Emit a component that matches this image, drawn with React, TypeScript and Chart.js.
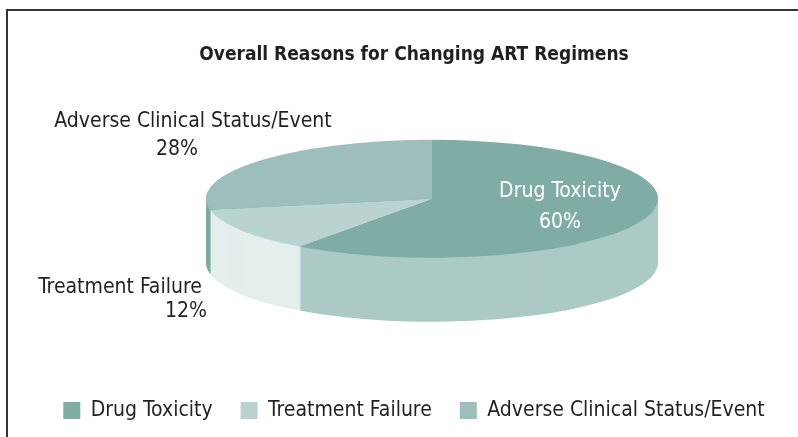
import React, { useEffect, useRef } from "react";
import { Chart, registerables } from "chart.js";

Chart.register(...registerables);

// ---- data ----
const categories = ["Drug Toxicity", "Treatment Failure", "Adverse Clinical Status/Event"];
const percentages = [60, 12, 28];
const titleText = "Overall Reasons for Changing ART Regimens";

// ---- styles ----
const topColors = ["#7fada6", "#b9d4d0", "#9dbfbb"];
const sideColors = ["#accac5", "#e4eeec", "#80aaa4"];
const labelColors = ["#ffffff", "#231f20", "#231f20"];
const TEXT = "#231f20";
const FONT = "'DejaVu Sans', sans-serif";

// pie geometry (styling of the 3D projection)
const PIE = { offsetX: 18, rx: 226, ry: 59, depth: 64 };
// label line anchors relative to the pie centre: [dx, dy] per line
const LABEL_POS = [
  [[128, -7], [128, 24]],
  [[-312, 89], [-246, 113]],
  [[-239, -77], [-255, -49]],
];

function pieCenter(chart: any) {
  const ca = chart.chartArea;
  return { cx: (ca.left + ca.right) / 2 + PIE.offsetX, cy: ca.top + PIE.ry };
}

function drawArcLayer(ctx: CanvasRenderingContext2D, arc: any, cx: number, cy: number, color: string) {
  const proxy = Object.create(arc);
  proxy.options = { ...arc.options, backgroundColor: color, borderWidth: 0 };
  ctx.save();
  ctx.translate(cx, cy);
  ctx.scale(PIE.rx / arc.outerRadius, PIE.ry / arc.outerRadius);
  ctx.translate(-arc.x, -arc.y);
  proxy.draw(ctx);
  ctx.restore();
}

const pie3d = {
  id: "pie3d",
  beforeDatasetsDraw(chart: any) {
    const ctx = chart.ctx;
    const meta = chart.getDatasetMeta(0);
    const { cx, cy } = pieCenter(chart);
    for (let d = PIE.depth; d >= 1; d--) {
      meta.data.forEach((arc: any, i: number) => drawArcLayer(ctx, arc, cx, cy + d, sideColors[i]));
    }
    meta.data.forEach((arc: any, i: number) => drawArcLayer(ctx, arc, cx, cy, topColors[i]));
    return false;
  },
  afterDraw(chart: any) {
    const ctx = chart.ctx;
    const { cx, cy } = pieCenter(chart);
    ctx.save();
    ctx.font = `condensed 21px ${FONT}`;
    ctx.textBaseline = "middle";
    ctx.textAlign = "center";
    categories.forEach((name, i) => {
      const lines = [name, `${percentages[i]}%`];
      ctx.fillStyle = labelColors[i];
      lines.forEach((t, j) => {
        ctx.fillText(t, cx + LABEL_POS[i][j][0], cy + LABEL_POS[i][j][1]);
      });
    });
    ctx.restore();
  },
};

export default function App() {
  const ref = useRef<HTMLCanvasElement>(null);
  useEffect(() => {
    if (!ref.current) return;
    const chart = new Chart(ref.current, {
      type: "pie",
      data: {
        labels: categories,
        datasets: [
          {
            data: percentages,
            backgroundColor: topColors,
            borderWidth: 0,
          },
        ],
      },
      options: {
        animation: false,
        responsive: false,
        events: [],
        layout: { padding: { left: 30, right: 0, top: 0, bottom: 6 } },
        plugins: {
          title: {
            display: true,
            text: titleText,
            color: TEXT,
            font: { family: FONT, size: 19, weight: "bold condensed" as any },
            padding: { top: 44, bottom: 73 },
          },
          legend: {
            position: "bottom",
            labels: {
              color: TEXT,
              font: { family: FONT, size: 21, weight: "normal condensed" as any },
              boxWidth: 17,
              boxHeight: 17,
              padding: 28,
            },
          },
          tooltip: { enabled: false },
        },
      },
      plugins: [pie3d],
    });
    return () => chart.destroy();
  }, []);
  return (
    <div style={{ position: "fixed", left: 0, top: 0, width: 798, height: 437, background: "#fff" }}>
      <canvas ref={ref} width={798} height={437} style={{ display: "block" }} />
      <div
        style={{
          position: "absolute",
          left: 6,
          top: 9,
          width: 800,
          height: 440,
          borderTop: "2px solid #333",
          borderLeft: "2px solid #333",
          pointerEvents: "none",
        }}
      />
    </div>
  );
}
